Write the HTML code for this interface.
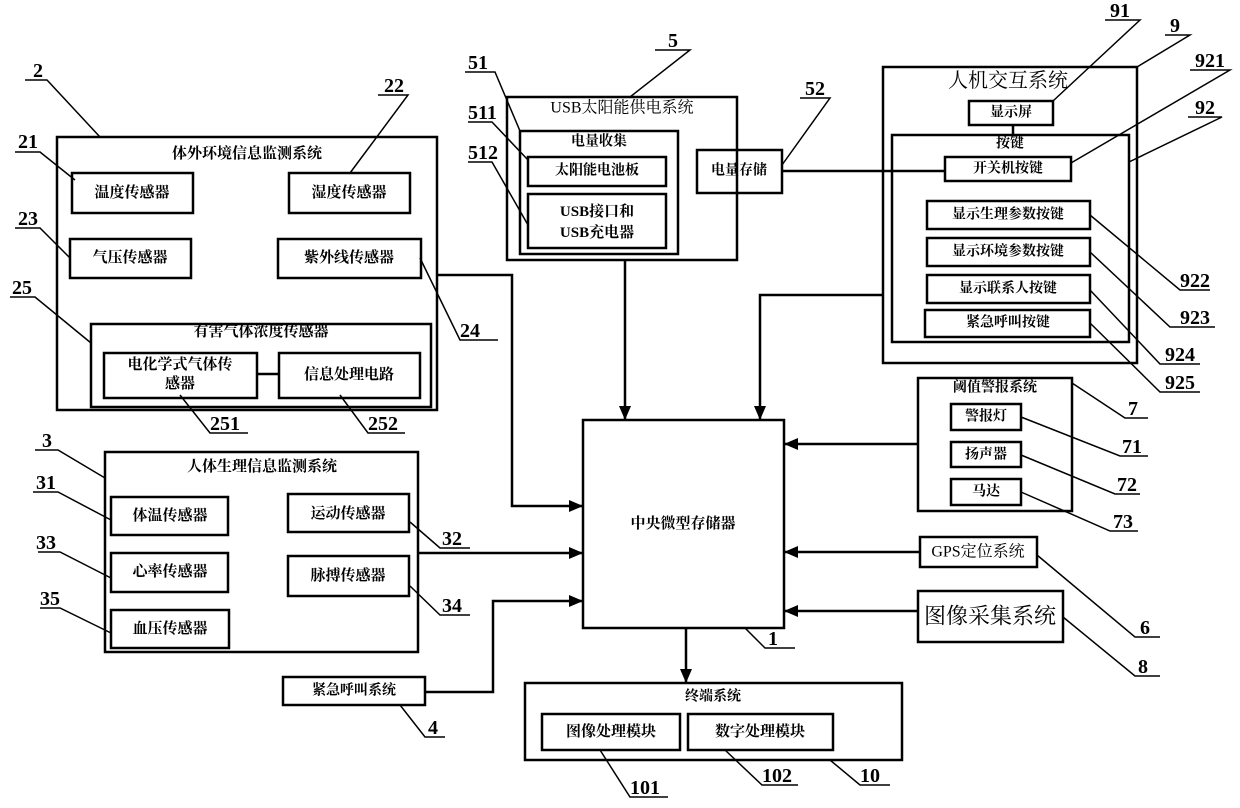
<!DOCTYPE html>
<html><head><meta charset="utf-8"><style>
html,body{margin:0;padding:0;background:#fff;}
svg{display:block;}
text{font-family:"Liberation Serif","Noto Serif CJK SC",serif;fill:#000;}
.t{font-size:15px;font-weight:bold;text-anchor:middle;dominant-baseline:central;}
.n{font-size:20px;font-weight:bold;}
</style></head><body>
<svg width="1240" height="808" viewBox="0 0 1240 808" xmlns="http://www.w3.org/2000/svg">
<defs>
<marker id="b" markerWidth="14" markerHeight="12" refX="13" refY="6" orient="auto" markerUnits="userSpaceOnUse"><path d="M0,0 L14,6 L0,12 z" fill="#000"/></marker></defs>
<g fill="none" stroke="#000" stroke-width="2.5">
<rect x="57" y="137" width="380" height="273"/>
<rect x="72" y="173" width="121" height="40"/>
<rect x="289" y="173" width="121" height="40"/>
<rect x="70" y="239" width="121" height="39"/>
<rect x="278" y="239" width="143" height="39"/>
<rect x="91" y="324" width="340" height="83"/>
<rect x="104" y="353" width="153" height="45"/>
<rect x="279" y="353" width="141" height="45"/>
<line x1="257" y1="374" x2="279" y2="374"/>
<rect x="105" y="452" width="313" height="200"/>
<rect x="111" y="497" width="117" height="38"/>
<rect x="288" y="494" width="121" height="38"/>
<rect x="111" y="553" width="117" height="39"/>
<rect x="288" y="556" width="121" height="40"/>
<rect x="111" y="610" width="118" height="38"/>
<rect x="283" y="677" width="142" height="28"/>
<rect x="507" y="97" width="230" height="163"/>
<rect x="520" y="131" width="158" height="123"/>
<rect x="528" y="157" width="138" height="29"/>
<rect x="528" y="194" width="138" height="54"/>
<rect x="697" y="150" width="85" height="43"/>
<rect x="883" y="67" width="254" height="296"/>
<rect x="969" y="101" width="84" height="24"/>
<rect x="892" y="135" width="237" height="207"/>
<rect x="945" y="157" width="126" height="24"/>
<rect x="927" y="201" width="163" height="28"/>
<rect x="927" y="238" width="163" height="28"/>
<rect x="927" y="275" width="163" height="28"/>
<rect x="925" y="310" width="165" height="27"/>
<line x1="1013" y1="125" x2="1013" y2="135"/>
<line x1="782" y1="171" x2="945" y2="171"/>
<rect x="583" y="420" width="201" height="208"/>
<rect x="918" y="378" width="154" height="133"/>
<rect x="951" y="404" width="70" height="26"/>
<rect x="951" y="442" width="70" height="25"/>
<rect x="951" y="479" width="70" height="26"/>
<rect x="920" y="537" width="117" height="30"/>
<rect x="918" y="591" width="145" height="51"/>
<rect x="525" y="683" width="377" height="77"/>
<rect x="542" y="714" width="138" height="36"/>
<rect x="688" y="714" width="145" height="36"/>
<line x1="625" y1="260" x2="625" y2="419" marker-end="url(#b)"/>
<polyline points="883,295 760,295 760,419" marker-end="url(#b)"/>
<line x1="918" y1="444" x2="785" y2="444" marker-end="url(#b)"/>
<line x1="920" y1="552" x2="785" y2="552" marker-end="url(#b)"/>
<line x1="918" y1="611" x2="785" y2="611" marker-end="url(#b)"/>
<polyline points="437,275 512,275 512,506 582,506" marker-end="url(#b)"/>
<line x1="418" y1="553" x2="582" y2="553" marker-end="url(#b)"/>
<polyline points="425,692 493,692 493,601 582,601" marker-end="url(#b)"/>
<line x1="686" y1="628" x2="686" y2="682" marker-end="url(#b)"/>
</g>
<g fill="none" stroke="#000" stroke-width="1.5">
<polyline points="25,80 47,80 100,137"/>
<polyline points="15,152 40,152 75,180"/>
<polyline points="378,95 408,95 350,173"/>
<polyline points="15,228 40,228 70,258"/>
<polyline points="498,340 460,340 420,258"/>
<polyline points="10,297 35,297 91,343"/>
<polyline points="248,433 210,433 180,395"/>
<polyline points="405,433 368,433 340,395"/>
<polyline points="35,450 58,450 105,478"/>
<polyline points="33,492 58,492 111,520"/>
<polyline points="38,552 60,552 111,578"/>
<polyline points="40,608 60,608 111,633"/>
<polyline points="470,548 440,548 410,522"/>
<polyline points="470,615 440,615 410,586"/>
<polyline points="445,737 425,737 400,705"/>
<polyline points="655,50 690,50 630,97"/>
<polyline points="465,72 495,72 520,131"/>
<polyline points="468,122 492,122 528,160"/>
<polyline points="468,162 492,162 528,225"/>
<polyline points="800,98 830,98 782,165"/>
<polyline points="1105,20 1140,20 1053,101"/>
<polyline points="1165,35 1190,35 1137,67"/>
<polyline points="1190,70 1230,70 1071,163"/>
<polyline points="1188,117 1222,117 1129,162"/>
<polyline points="1210,290 1180,290 1090,215"/>
<polyline points="1215,327 1170,327 1090,252"/>
<polyline points="1200,364 1160,364 1090,290"/>
<polyline points="1200,392 1160,392 1090,323"/>
<polyline points="1148,418 1125,418 1072,383"/>
<polyline points="1148,456 1120,456 1021,417"/>
<polyline points="1140,494 1115,494 1021,455"/>
<polyline points="1138,531 1110,531 1021,492"/>
<polyline points="1160,637 1135,637 1037,555"/>
<polyline points="1160,676 1135,676 1063,617"/>
<polyline points="795,648 765,648 745,628"/>
<polyline points="668,797 630,797 600,750"/>
<polyline points="798,785 762,785 725,750"/>
<polyline points="890,785 860,785 830,760"/>
</g>
<text class="t" x="247" y="154">体外环境信息监测系统</text>
<text class="t" x="132" y="193">温度传感器</text>
<text class="t" x="349" y="193">湿度传感器</text>
<text class="t" x="130" y="258">气压传感器</text>
<text class="t" x="349" y="258">紫外线传感器</text>
<text class="t" x="261" y="332">有害气体浓度传感器</text>
<text class="t" x="180" y="365">电化学式气体传</text>
<text class="t" x="180" y="384">感器</text>
<text class="t" x="349" y="375">信息处理电路</text>
<text class="t" x="262" y="467">人体生理信息监测系统</text>
<text class="t" x="170" y="516">体温传感器</text>
<text class="t" x="348" y="514">运动传感器</text>
<text class="t" x="170" y="572">心率传感器</text>
<text class="t" x="348" y="576">脉搏传感器</text>
<text class="t" x="170" y="629">血压传感器</text>
<text class="t" x="354" y="691" style="font-size:14px">紧急呼叫系统</text>
<text class="t" x="622" y="108" style="font-weight:normal;font-size:16px">USB太阳能供电系统</text>
<text class="t" x="599" y="142" style="font-size:14px">电量收集</text>
<text class="t" x="597" y="171" style="font-size:14px">太阳能电池板</text>
<text class="t" x="597" y="212">USB接口和</text>
<text class="t" x="597" y="233">USB充电器</text>
<text class="t" x="739" y="171" style="font-size:14px">电量存储</text>
<text class="t" x="1008" y="81" style="font-weight:normal;font-size:20px">人机交互系统</text>
<text class="t" x="1011" y="113" style="font-size:14px">显示屏</text>
<text class="t" x="1010" y="144" style="font-size:14px">按键</text>
<text class="t" x="1008" y="169" style="font-size:14px">开关机按键</text>
<text class="t" x="1008" y="215" style="font-size:14px">显示生理参数按键</text>
<text class="t" x="1008" y="252" style="font-size:14px">显示环境参数按键</text>
<text class="t" x="1008" y="289" style="font-size:14px">显示联系人按键</text>
<text class="t" x="1008" y="323" style="font-size:14px">紧急呼叫按键</text>
<text class="t" x="683" y="524">中央微型存储器</text>
<text class="t" x="995" y="388" style="font-size:14px">阈值警报系统</text>
<text class="t" x="986" y="417" style="font-size:14px">警报灯</text>
<text class="t" x="986" y="455" style="font-size:14px">扬声器</text>
<text class="t" x="986" y="492" style="font-size:14px">马达</text>
<text class="t" x="978" y="552" style="font-weight:normal;font-size:16px">GPS定位系统</text>
<text class="t" x="990" y="616" style="font-weight:normal;font-size:22px">图像采集系统</text>
<text class="t" x="713" y="697" style="font-size:14px">终端系统</text>
<text class="t" x="611" y="732">图像处理模块</text>
<text class="t" x="760" y="732">数字处理模块</text>
<text class="n" x="33" y="77">2</text>
<text class="n" x="18" y="148">21</text>
<text class="n" x="384" y="92">22</text>
<text class="n" x="18" y="225">23</text>
<text class="n" x="460" y="337">24</text>
<text class="n" x="12" y="294">25</text>
<text class="n" x="210" y="430">251</text>
<text class="n" x="368" y="430">252</text>
<text class="n" x="42" y="447">3</text>
<text class="n" x="36" y="489">31</text>
<text class="n" x="36" y="549">33</text>
<text class="n" x="40" y="605">35</text>
<text class="n" x="442" y="545">32</text>
<text class="n" x="442" y="612">34</text>
<text class="n" x="428" y="734">4</text>
<text class="n" x="668" y="47">5</text>
<text class="n" x="468" y="69">51</text>
<text class="n" x="468" y="119">511</text>
<text class="n" x="468" y="159">512</text>
<text class="n" x="805" y="95">52</text>
<text class="n" x="1110" y="17">91</text>
<text class="n" x="1170" y="32">9</text>
<text class="n" x="1195" y="67">921</text>
<text class="n" x="1195" y="114">92</text>
<text class="n" x="1180" y="287">922</text>
<text class="n" x="1180" y="324">923</text>
<text class="n" x="1165" y="361">924</text>
<text class="n" x="1165" y="389">925</text>
<text class="n" x="1128" y="415">7</text>
<text class="n" x="1122" y="453">71</text>
<text class="n" x="1117" y="491">72</text>
<text class="n" x="1113" y="528">73</text>
<text class="n" x="1140" y="634">6</text>
<text class="n" x="1138" y="673">8</text>
<text class="n" x="768" y="645">1</text>
<text class="n" x="630" y="794">101</text>
<text class="n" x="762" y="782">102</text>
<text class="n" x="860" y="782">10</text>
</svg>
</body></html>
